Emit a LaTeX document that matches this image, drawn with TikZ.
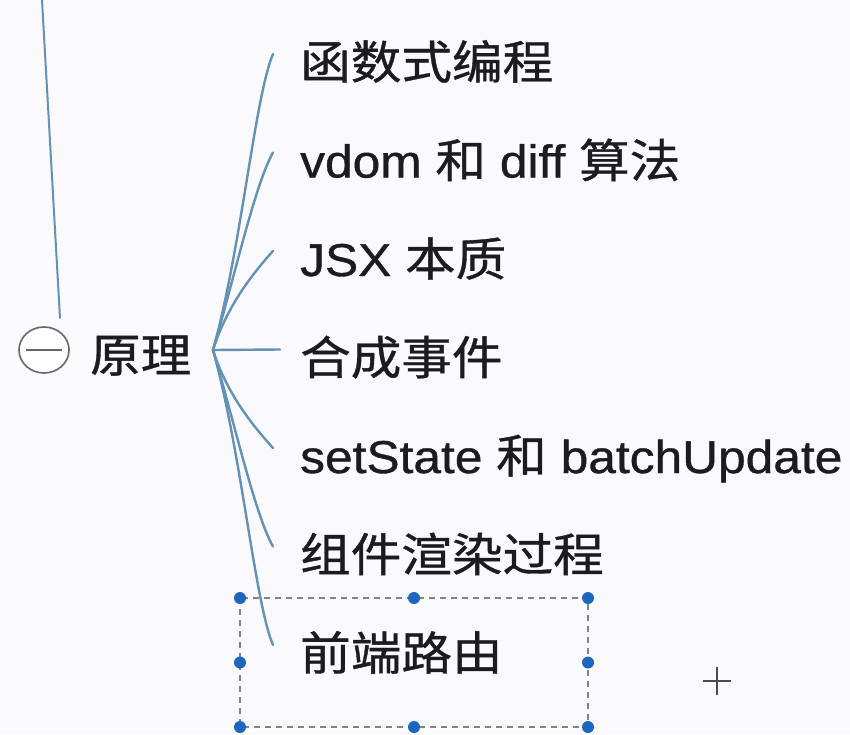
\documentclass[tikz,border=0pt]{standalone}
\usepackage{fontspec}
\usetikzlibrary{shapes.geometric}
\setmainfont{Liberation Sans}[FakeStretch=1.08, FakeBold=0.8]
\newfontfamily\cjk{Noto Sans CJK SC}[FakeStretch=1.1, FakeBold=0.8]
\definecolor{bg}{RGB}{250,250,252}
\definecolor{branch}{RGB}{100,146,180}
\definecolor{txt}{RGB}{28,28,30}
\definecolor{handle}{RGB}{28,102,190}
\definecolor{dashgrey}{RGB}{130,130,140}
\tikzset{
  lbl/.style={anchor=base west, inner sep=0pt, text=txt, font=\fontsize{46}{50}\selectfont},
  br/.style={draw=branch, line width=2.4pt, line cap=round},
  dot/.style={circle, fill=handle, inner sep=0pt, minimum size=12pt},
}
\begin{document}
\begin{tikzpicture}[x=1pt,y=-1pt]
\fill[bg] (0,0) rectangle (850,734);
\useasboundingbox (0,0) rectangle (850,734);
% top line to collapse circle
\coordinate (top) at (42,0);
\coordinate (topend) at (60,318);
\draw[br, line width=2pt] (top) -- (topend);
% collapse button
\node[draw=black!60, line width=1.6pt, ellipse, minimum width=50pt, minimum height=46pt, inner sep=0pt, fill=white] (btn) at (44,350) {};
\draw[black!60, line width=1.6pt] ([xshift=-18pt]btn.center) -- ([xshift=18pt]btn.center);
% root
\node[lbl] (root) at (90,372) {\cjk 原理};
\coordinate (fork) at (213,350);
% children
\node[lbl] (c1) at (300,79) {\cjk 函数式编程};
\node[lbl] (c2) at (300,177.5) {vdom {\cjk 和} diff {\cjk 算法}};
\node[lbl] (c3) at (300,276) {JSX {\cjk 本质}};
\node[lbl] (c4) at (300,374.5) {\cjk 合成事件};
\node[lbl] (c5) at (300,473) {setState {\cjk 和} batchUpdate};
\node[lbl] (c6) at (300,571.5) {\cjk 组件渲染过程};
\node[lbl] (c7) at (300,670) {\cjk 前端路由};
% branches
\draw[br] (fork) .. controls +(28,-100) and +(-18,42) .. ([shift={(-27pt,25pt)}]c1.base west);
\draw[br] (fork) .. controls +(22,-75) and +(-18,32) .. ([shift={(-27pt,25pt)}]c2.base west);
\draw[br] (fork) .. controls +(14,-45) and +(-18,20) .. ([shift={(-27pt,25pt)}]c3.base west);
\draw[br] (fork) -- ([shift={(-20pt,25pt)}]c4.base west);
\draw[br] (fork) .. controls +(14,45) and +(-18,-20) .. ([shift={(-27pt,25pt)}]c5.base west);
\draw[br] (fork) .. controls +(22,75) and +(-18,-32) .. ([shift={(-27pt,25pt)}]c6.base west);
\draw[br] (fork) .. controls +(28,100) and +(-18,-42) .. ([shift={(-27pt,25pt)}]c7.base west);
% selection box
\coordinate (s1) at (240,598);
\coordinate (s2) at (588,727);
\draw[dashgrey, line width=1.5pt, dash pattern=on 6pt off 5pt] (s1) rectangle (s2);
\foreach \p in {(240,598),(414,598),(588,598),(240,662.5),(588,662.5),(240,727),(414,727),(588,727)}
  \node[dot] at \p {};
% cursor plus
\coordinate (pc) at (717,681);
\draw[black!70, line width=1.6pt] ([xshift=-14pt]pc) -- ([xshift=14pt]pc) ([yshift=-14pt]pc) -- ([yshift=14pt]pc);
\end{tikzpicture}
\end{document}
